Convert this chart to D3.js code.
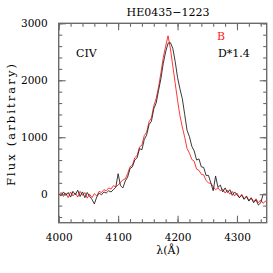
<!DOCTYPE html>
<html>
<head>
<meta charset="utf-8">
<script src="https://cdn.jsdelivr.net/npm/d3@7"></script>
<style>
  body { margin: 0; background: #fff; }
  svg { display: block; }
  text { font-family: "DejaVu Serif", serif; fill: #000; }
</style>
</head>
<body>
<div id="chart"></div>
<script>
// wavelength grid (Angstrom)
const wave = [4000, 4004, 4008, 4012, 4016, 4020, 4024, 4028, 4032, 4036, 4040, 4044, 4048, 4052, 4056, 4060,
    4064, 4068, 4072, 4076, 4080, 4084, 4088, 4092, 4096, 4100, 4104, 4108, 4112, 4116, 4120, 4124,
    4128, 4132, 4136, 4140, 4144, 4148, 4152, 4156, 4160, 4164, 4168, 4172, 4176, 4180, 4184, 4188,
    4192, 4196, 4200, 4204, 4208, 4212, 4216, 4220, 4224, 4228, 4232, 4236, 4240, 4244, 4248, 4252,
    4256, 4260, 4264, 4268, 4272, 4276, 4280, 4284, 4288, 4292, 4296, 4300, 4304, 4308, 4312, 4316,
    4320, 4324, 4328, 4332, 4336, 4340, 4344, 4348];

// image D, scaled by 1.4 (black)
const fluxD = [10, -30, 40, -20, 30, -50, 50, -10, 70, -40, 40, -60, 30, -40, -90, -170,
    -50, 20, -10, 40, 20, 60, 40, 80, 120, 360, 150, 110, 230, 300, 450, 480,
    600, 640, 800, 780, 960, 1040, 1220, 1280, 1500, 1600, 1820, 2030, 2300, 2500, 2650, 2660,
    2560, 2330, 2050, 1850, 1680, 1400, 1120, 1010, 840, 760, 600, 620, 480, 470, 330, 330,
    200, 60, 320, 120, 160, 40, 110, 30, 80, -20, 40, -10, -60, -20, -90, -40,
    -120, -70, -150, -100, -190, -150, 0, 0];

// image B (red)
const fluxB = [-20, 30, -40, 20, -60, 40, -30, 20, -50, 50, -20, 30, -70, 0, -60, 10,
    -30, 50, 30, 80, 60, 110, 90, 150, 130, 160, 210, 250, 270, 360, 480, 510,
    640, 680, 830, 860, 1030, 1090, 1270, 1340, 1550, 1680, 1880, 2130, 2400, 2600, 2780, 2550,
    2250, 1950, 1650, 1380, 1180, 1000, 800, 720, 610, 580, 440, 420, 350, 340, 240, 200,
    190, 130, 80, 110, 60, 90, 20, 70, 0, 50, -30, 20, -60, 0, -80, -30,
    -110, -60, -130, -80, -150, -100, -160, -120];

const xTicks = [4000, 4100, 4200, 4300];
const yTicks = [0, 1000, 2000, 3000];

const W = 273, H = 273;
const margin = {top: 23.3, right: 6.3, bottom: 50.3, left: 58.7};
const iw = W - margin.left - margin.right;
const ih = H - margin.top - margin.bottom;

const svg = d3.select("#chart").append("svg")
    .attr("width", W)
    .attr("height", H);

const g = svg.append("g")
    .attr("transform", `translate(${margin.left},${margin.top})`);

const x = d3.scaleLinear().domain([4000, 4350]).range([0, iw]);
const y = d3.scaleLinear().domain([-500, 3000]).range([ih, 0]);

g.append("clipPath").attr("id", "clip")
    .append("rect").attr("width", iw).attr("height", ih);

const line = d3.line()
    .x(d => x(d[0]))
    .y(d => y(d[1]));

// step at the very end of D spectrum
const dataD = wave.map((w, i) => [w, fluxD[i]]).concat([[4351, 0], [4351, -230]]);
const dataB = wave.map((w, i) => [w, fluxB[i]]).concat([[4352, -180]]);

g.append("path")
    .datum(dataB)
    .attr("clip-path", "url(#clip)")
    .attr("fill", "none")
    .attr("stroke", "#ff2020")
    .attr("stroke-width", 0.9)
    .attr("d", line);

g.append("path")
    .datum(dataD)
    .attr("clip-path", "url(#clip)")
    .attr("fill", "none")
    .attr("stroke", "#222")
    .attr("stroke-width", 0.9)
    .attr("d", line);

// frame and ticks
const frameColor = "#6a6a6a";

function ticksAxis(axis) {
    axis.select(".domain").remove();
    axis.selectAll("line").attr("stroke", frameColor).attr("stroke-width", 1.1);
}

const xMinor = d3.range(4000, 4351, 20);
const yMinor = d3.range(-400, 3001, 200);

// bottom
g.append("g").attr("transform", `translate(0,${ih})`)
    .call(d3.axisBottom(x).tickValues(xTicks).tickSize(-7).tickPadding(11).tickFormat(d3.format("d")))
    .call(ticksAxis)
    .call(a => a.selectAll("text").attr("font-size", 10.5).attr("font-family", "DejaVu Serif"));
g.append("g").attr("transform", `translate(0,${ih})`)
    .call(d3.axisBottom(x).tickValues(xMinor).tickSize(-3.5).tickFormat(""))
    .call(ticksAxis);
// top
g.append("g")
    .call(d3.axisTop(x).tickValues(xTicks).tickSize(-7).tickFormat(""))
    .call(ticksAxis);
g.append("g")
    .call(d3.axisTop(x).tickValues(xMinor).tickSize(-3.5).tickFormat(""))
    .call(ticksAxis);
// left
g.append("g")
    .call(d3.axisLeft(y).tickValues(yTicks).tickSize(-7).tickPadding(11).tickFormat(d3.format("d")))
    .call(ticksAxis)
    .call(a => a.selectAll("text").attr("font-size", 10.5).attr("font-family", "DejaVu Serif"));
g.append("g")
    .call(d3.axisLeft(y).tickValues(yMinor).tickSize(-3.5).tickFormat(""))
    .call(ticksAxis);
// right
g.append("g").attr("transform", `translate(${iw},0)`)
    .call(d3.axisRight(y).tickValues(yTicks).tickSize(-7).tickFormat(""))
    .call(ticksAxis);
g.append("g").attr("transform", `translate(${iw},0)`)
    .call(d3.axisRight(y).tickValues(yMinor).tickSize(-3.5).tickFormat(""))
    .call(ticksAxis);

g.append("rect")
    .attr("width", iw)
    .attr("height", ih)
    .attr("fill", "none")
    .attr("stroke", frameColor)
    .attr("stroke-width", 1.4);

// labels
svg.append("text")
    .attr("x", 168)
    .attr("y", 16)
    .attr("text-anchor", "middle")
    .attr("font-size", 11)
    .text("HE0435\u22121223");

svg.append("text")
    .attr("x", 76)
    .attr("y", 57)
    .attr("font-size", 11)
    .text("CIV");

svg.append("text")
    .attr("x", 217)
    .attr("y", 40)
    .attr("font-size", 11)
    .style("fill", "#ff2020")
    .text("B");

svg.append("text")
    .attr("x", 218)
    .attr("y", 57)
    .attr("font-size", 11)
    .text("D*1.4");

svg.append("text")
    .attr("x", 168)
    .attr("y", 254)
    .attr("text-anchor", "middle")
    .attr("font-size", 11)
    .text("\u03bb(\u00c5)");

svg.append("text")
    .attr("transform", "translate(15,125) rotate(-90)")
    .attr("text-anchor", "middle")
    .attr("font-size", 11.5)
    .attr("textLength", 122)
    .attr("lengthAdjust", "spacing")
    .text("Flux (arbitrary)");
</script>
</body>
</html>
